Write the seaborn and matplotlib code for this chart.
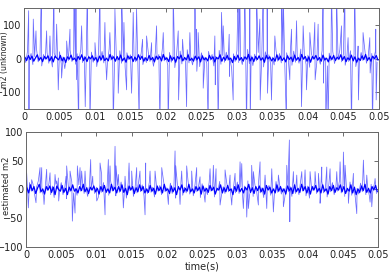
import numpy as np
import pandas as pd
import seaborn as sns
import matplotlib.pyplot as plt

sns.set_style('white')
plt.rcParams['font.family'] = ['Liberation Sans Narrow', 'DejaVu Sans']

# Light haze around the trace (one sample every 0.25 ms)
top_base = [
    8, -12, 22, -5, 15, -18, 6, 30, -10, 4, -22, 12, -3, 18, -14, 9, -25, 16, 2, -8,
    20, -15, 5, -30, 11, -6, 24, -9, 3, -17, 14, -4, 27, -12, 7, -20, 10, -2, 19, -11,
    6, -24, 15, -7, 21, -13, 2, -16, 28, -5, 9, -19, 12, -8, 23, -14, 4, -26, 17, -3,
    11, -21, 8, -10, 25, -6, 14, -18, 3, -12, 20, -9, 7, -23, 16, -4, 12, -15, 30, -7,
    5, -20, 18, -11, 9, -27, 13, -2, 22, -16, 6, -9, 26, -13, 3, -19, 15, -6, 10, -24,
    17, -8, 4, -14, 21, -5, 12, -22, 7, -3, 24, -17, 9, -11, 19, -6, 2, -28, 14, -9,
    23, -12, 6, -18, 10, -4, 27, -15, 8, -21, 13, -7, 18, -10, 5, -25, 20, -2, 11, -16,
    4, -19, 25, -8, 15, -13, 3, -23, 17, -6, 9, -20, 22, -11, 7, -14, 28, -5, 12, -18,
    10, -26, 14, -3, 19, -12, 6, -17, 24, -9, 2, -22, 16, -7, 21, -15, 8, -4, 26, -10,
    13, -20, 5, -9, 23, -16, 11, -24, 4, -12, 18, -6, 29, -14, 7, -19, 15, -2, 20, -11,
]
bottom_base = [
    5, -8, 12, -3, 9, -11, 4, 15, -6, 2, -13, 7, -2, 10, -9, 6, -14, 9, 1, -5,
    12, -9, 3, -16, 7, -4, 13, -6, 2, -10, 8, -3, 15, -7, 4, -12, 6, -1, 11, -7,
    4, -14, 9, -5, 12, -8, 1, -10, 16, -3, 6, -11, 7, -5, 13, -8, 3, -15, 10, -2,
    7, -12, 5, -6, 14, -4, 8, -11, 2, -7, 12, -5, 4, -13, 9, -3, 7, -9, 17, -4,
    3, -12, 11, -7, 5, -15, 8, -1, 13, -10, 4, -6, 15, -8, 2, -11, 9, -4, 6, -14,
    10, -5, 3, -9, 12, -3, 7, -13, 4, -2, 14, -10, 5, -7, 11, -4, 1, -16, 8, -6,
    13, -7, 4, -11, 6, -3, 15, -9, 5, -12, 8, -4, 10, -6, 3, -14, 12, -1, 7, -10,
    2, -11, 14, -5, 9, -8, 2, -13, 10, -4, 5, -12, 13, -7, 4, -9, 16, -3, 7, -11,
    6, -15, 8, -2, 11, -7, 4, -10, 14, -6, 1, -13, 9, -4, 12, -9, 5, -3, 15, -6,
    8, -12, 3, -5, 13, -10, 7, -14, 2, -8, 11, -4, 17, -9, 4, -11, 9, -1, 12, -7,
]

# Dense dark core of the trace (offset by half a step)
top_core = [
    4, -6, 9, -3, 7, -8, 2, 11, -5, 3, -9, 6, -1, 8, -7, 5, -10, 7, 1, -4,
    9, -7, 3, -12, 5, -2, 10, -4, 1, -8, 6, -3, 11, -6, 4, -9, 5, -1, 8, -5,
    3, -10, 7, -4, 9, -6, 1, -7, 12, -2, 5, -8, 6, -4, 10, -7, 2, -11, 8, -1,
    6, -9, 4, -5, 11, -3, 7, -8, 2, -6, 9, -4, 3, -10, 7, -2, 6, -7, 12, -3,
    2, -9, 8, -5, 4, -11, 6, -1, 10, -7, 3, -4, 11, -6, 1, -8, 7, -3, 5, -10,
    8, -4, 2, -7, 9, -2, 5, -10, 3, -1, 11, -8, 4, -5, 9, -3, 1, -12, 6, -4,
    10, -5, 3, -8, 5, -2, 12, -7, 4, -9, 6, -3, 8, -5, 2, -11, 9, -1, 5, -7,
    1, -8, 11, -4, 7, -6, 2, -10, 8, -3, 4, -9, 10, -5, 3, -7, 12, -2, 6, -8,
    5, -11, 6, -1, 9, -5, 3, -8, 10, -4, 1, -10, 7, -3, 9, -6, 4, -2, 11, -5,
    6, -9, 2, -4, 10, -7, 5, -11, 1, -6, 8, -3, 12, -6, 3, -8, 7, -1, 9, -5,
]
bottom_core = [
    3, -6, 8, -2, 5, -7, 2, 9, -4, 1, -8, 5, -1, 6, -5, 4, -9, 6, 0, -3,
    7, -5, 2, -9, 4, -2, 8, -3, 1, -6, 5, -2, 9, -4, 3, -7, 4, -1, 6, -4,
    2, -8, 5, -3, 7, -5, 1, -6, 9, -2, 4, -6, 5, -3, 8, -5, 2, -9, 6, -1,
    5, -7, 3, -4, 8, -2, 5, -6, 1, -5, 7, -3, 2, -8, 6, -2, 4, -6, 9, -2,
    1, -7, 6, -4, 3, -9, 5, -1, 8, -5, 2, -3, 9, -4, 1, -6, 5, -2, 4, -8,
    6, -3, 2, -5, 7, -2, 4, -8, 2, -1, 8, -6, 3, -4, 7, -2, 1, -9, 5, -3,
    8, -4, 2, -6, 4, -1, 9, -5, 3, -7, 5, -2, 6, -4, 2, -8, 7, -1, 4, -6,
    1, -6, 8, -3, 5, -4, 1, -8, 6, -2, 3, -7, 8, -4, 2, -5, 9, -2, 5, -6,
    4, -8, 5, -1, 7, -4, 2, -6, 8, -3, 1, -8, 5, -2, 7, -5, 3, -1, 8, -4,
    5, -7, 2, -3, 8, -6, 4, -9, 1, -5, 6, -2, 9, -5, 2, -6, 5, -1, 7, -4,
]

# Spikes: time in ms and value (values beyond the axis are clipped by it)
top_spike_ms = [
    0.66, 0.70, 1.31, 1.69, 2.44, 3.19, 3.66, 4.22, 4.60, 4.83, 5.30, 6.01, 6.48,
    7.04, 7.32, 7.41, 7.70, 8.12, 8.63, 8.92, 9.29, 10.0, 10.7, 11.4, 11.64, 12.1,
    12.58, 12.81, 13.28, 13.75, 14.08, 14.46, 15.16, 15.39, 15.86, 16.24, 16.71,
    17.27, 17.98, 18.68, 19.15, 19.62, 20.32, 21.02, 21.73, 21.78, 22.34, 22.91,
    23.37, 24.08, 24.30, 24.35, 24.54, 25.25, 25.95, 26.89, 26.95, 27.36, 27.83,
    28.07, 28.91, 28.95, 29.47, 30.17, 30.41, 31.12, 31.35, 31.82, 31.88, 32.76,
    33.23, 33.28, 33.70, 34.26, 34.31, 34.87, 35.34, 36.28, 36.51, 36.98, 37.45,
    37.69, 38.40, 39.10, 39.33, 39.80, 40.27, 40.97, 41.02, 41.44, 42.14, 42.19,
    42.52, 42.85, 43.32, 44.03, 44.73, 45.20, 45.66, 46.14, 46.60, 47.07, 47.12,
    47.77, 48.72, 48.77, 49.10, 49.56, 49.62,
]
top_spike_val = [
    142, -200, 117, 82, 200, 82, 67, 200, 102, -93, -58, 52, 87,
    200, 200, -63, -200, 97, -143, 200, -200, 47, 200, 107, -63, 77,
    -200, 147, -103, 200, 107, -93, -103, 137, 147, -200, 57,
    67, 47, 97, -200, 77, -200, 200, 82, -123, 57, -143,
    77, 200, 87, -38, 77, -88, -200, 67, -78, -200, 137,
    97, 72, -53, -123, 200, 200, 200, -200, 200, -200, 200,
    117, -123, 200, 200, -103, -123, 67, 200, 200, -200, -63,
    87, 112, -143, 97, -93, 77, 107, -63, 102, 200, -73,
    -200, -200, 200, 200, 97, 200, 62, -200, 200, 37, -123,
    77, 62, -43, -200, 87, -123,
]

bottom_spike_ms = [
    0.09, 0.33, 0.80, 1.42, 1.99, 2.23, 2.56, 2.93, 3.41, 4.12, 4.35, 4.59, 4.64,
    5.68, 5.77, 6.25, 6.58, 6.96, 7.29, 7.67, 7.90, 8.38, 9.18, 9.47, 10.04, 10.51,
    10.74, 11.22, 11.69, 11.93, 12.64, 12.78, 13.11, 13.82, 14.06, 14.63, 15.00,
    15.71, 16.18, 16.90, 16.99, 17.61, 18.32, 19.27, 20.21, 21.16, 21.26, 21.87,
    22.10, 22.81, 23.52, 24.23, 24.71, 25.42, 26.13, 26.60, 26.98, 27.55, 28.26,
    28.97, 29.21, 29.68, 30.39, 30.63, 30.86, 31.34, 31.57, 32.04, 32.28, 32.99,
    33.23, 33.94, 34.18, 34.89, 35.12, 35.83, 36.54, 37.02, 37.25, 37.39, 37.45,
    37.96, 38.44, 39.15, 39.62, 40.33, 41.04, 41.51, 41.75, 41.99, 42.70, 43.17,
    44.12, 44.59, 45.06, 45.30, 45.77, 46.48, 46.96, 47.90, 48.38, 48.85, 49.09,
    49.56,
]
bottom_spike_val = [
    29, -32, 17, -23, 38, 38, -26, 35, 29, 26, 15, 20, -20,
    23, 41, 32, -55, -41, 41, 38, 32, 32, 52, 23, -20, 46,
    26, -44, 52, 41, 75, 41, 26, -32, 23, 46, 32,
    38, 32, -44, 46, 32, 32, 38, -26, 67, 41, -26,
    32, 41, 32, 38, 22, -22, 36, 42, 36, -27, 34,
    25, -27, 28, 48, 45, -33, -48, -33, 42, 31, -27,
    48, 25, -33, 36, -39, 25, -30, 42, 34, 86, -56,
    31, 25, 31, 34, 31, 31, 28, -24, 39, 39, 36,
    31, 48, 65, 42, -24, 28, -42, 51, 25, -22, -30,
    19,
]

x_ticks = [0, 0.005, 0.01, 0.015, 0.02, 0.025, 0.03, 0.035, 0.04, 0.045, 0.05]
x_tick_labels = ['0', '0.005', '0.01', '0.015', '0.02', '0.025', '0.03',
                 '0.035', '0.04', '0.045', '0.05']


def build_signal(base, spike_ms, spike_val):
    t = np.concatenate([np.arange(len(base)) * 0.25, spike_ms]) / 1000.0
    v = np.concatenate([base, spike_val]).astype(float)
    order = np.argsort(t, kind='stable')
    return pd.DataFrame({'t': t[order], 'v': v[order]})


def build_core(core):
    t = (np.arange(len(core)) * 0.25 + 0.125) / 1000.0
    return pd.DataFrame({'t': t, 'v': np.asarray(core, dtype=float)})


panels = [
    (build_signal(top_base, top_spike_ms, top_spike_val), build_core(top_core)),
    (build_signal(bottom_base, bottom_spike_ms, bottom_spike_val), build_core(bottom_core)),
]

fig = plt.figure(figsize=(3.9, 2.76), dpi=100)
ax1 = fig.add_axes([0.0615, 0.605, 0.910, 0.366])
ax2 = fig.add_axes([0.0667, 0.105, 0.903, 0.417])

for ax, (df, core_df) in zip([ax1, ax2], panels):
    sns.lineplot(data=df, x='t', y='v', ax=ax, color='#6b6bff', lw=0.55,
                 estimator=None, sort=False)
    sns.lineplot(data=core_df, x='t', y='v', ax=ax, color='#0000ff', lw=0.9,
                 estimator=None, sort=False)
    ax.set_xlim(0, 0.05)
    ax.set_xticks(x_ticks)
    ax.set_xticklabels(x_tick_labels)
    ax.tick_params(direction='in', length=3, width=0.6, color='#555555',
                   labelsize=7, labelcolor='#222222', pad=2,
                   top=True, right=True)
    for s in ax.spines.values():
        s.set_color('#666666')
        s.set_linewidth(0.7)

ax1.set_ylim(-150, 150)
ax1.set_yticks([-100, 0, 100])
ax1.set_xlabel('')
ax1.set_ylabel('m2 (unknown)', fontsize=5.6)
ax1.yaxis.set_label_coords(-0.043, 0.49)

ax2.set_ylim(-100, 100)
ax2.set_yticks([-100, -50, 0, 50, 100])
ax2.set_xlabel('time(s)', fontsize=7, labelpad=1)
ax2.set_ylabel('estimated m2', fontsize=6)
ax2.yaxis.set_label_coords(-0.043, 0.53)

fig.savefig('out.png', dpi=100)
